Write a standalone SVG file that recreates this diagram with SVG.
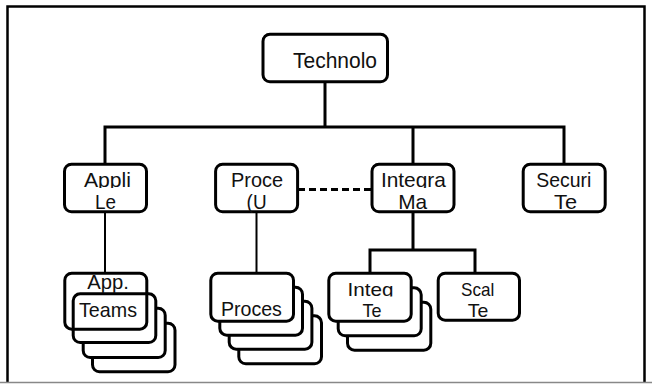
<svg xmlns="http://www.w3.org/2000/svg" width="652" height="384" viewBox="0 0 652 384">
<defs>
<style>
.box{fill:#fff;stroke:#000;stroke-width:3}
.ghost{fill:none;stroke:#000;stroke-width:3}
.ln{stroke:#000;stroke-width:3;fill:none}
.thin{stroke:#000;stroke-width:2;fill:none}
.dash{stroke:#000;stroke-width:3;stroke-dasharray:7 4;fill:none}
text{font-family:"Liberation Sans",Arial,sans-serif;fill:#111}
.t1{font-size:21px;text-anchor:middle}
.t2{font-size:21px;text-anchor:middle}
.t3{font-size:19px;text-anchor:middle}
</style>
<clipPath id="c1"><rect x="0" y="140" width="652" height="48"/></clipPath>
<clipPath id="c2"><rect x="0" y="265" width="652" height="31.5"/></clipPath>
</defs>
<rect width="652" height="384" fill="#fff"/>
<g id="frame">
<path d="M7.5,383 V6.5 H644.5 V382" stroke="#000" stroke-width="2.5" fill="none"/>
<line x1="0" y1="382.5" x2="652" y2="382.5" stroke="#888" stroke-width="1.5"/>
</g>
<g id="connectors">
<path class="ln" d="M105,164 V127 H564 V164 M325,82 V127 M413,127 V164"/>
<path class="ln" d="M413,212 V250 M370,273 V250 H475 V273"/>
<path class="thin" d="M105,212 V273 M256.5,212 V273"/>
<path class="dash" d="M298,189.5 H371"/>
</g>
<g id="technolo">
<rect class="box" x="263" y="34.2" width="124.5" height="47.6" rx="7"/>
<text x="293" y="68" style="font-size:22px" textLength="84" lengthAdjust="spacingAndGlyphs">Technolo</text>
</g>
<g id="appli">
<rect class="box" x="64.5" y="164.2" width="82" height="47.6" rx="7"/>
<text class="t1" x="107.5" y="187" clip-path="url(#c1)" textLength="47" lengthAdjust="spacingAndGlyphs">Appli</text>
<text class="t1" x="105.5" y="209" textLength="21" lengthAdjust="spacingAndGlyphs">Le</text>
</g>
<g id="proce">
<rect class="box" x="215.6" y="164.2" width="82" height="47.6" rx="7"/>
<text class="t1" x="257" y="187" clip-path="url(#c1)" textLength="52" lengthAdjust="spacingAndGlyphs">Proce</text>
<text class="t1" x="256.6" y="209" textLength="20" lengthAdjust="spacingAndGlyphs">(U</text>
</g>
<g id="integra">
<rect class="box" x="372" y="164.2" width="82" height="47.6" rx="7"/>
<text class="t1" x="413.4" y="187" clip-path="url(#c1)" textLength="65" lengthAdjust="spacingAndGlyphs">Integra</text>
<text class="t1" x="412.7" y="209" textLength="29" lengthAdjust="spacingAndGlyphs">Ma</text>
</g>
<g id="securi">
<rect class="box" x="523.2" y="164.2" width="82" height="47.6" rx="7"/>
<text class="t1" x="563.8" y="187" clip-path="url(#c1)" textLength="55" lengthAdjust="spacingAndGlyphs">Securi</text>
<text class="t1" x="565.5" y="209" textLength="23" lengthAdjust="spacingAndGlyphs">Te</text>
</g>
<g id="app-teams">
<rect class="box" x="92.5" y="323.2" width="82.5" height="48.6" rx="7"/>
<rect class="box" x="83.2" y="308.2" width="82" height="49.3" rx="7"/>
<rect class="box" x="73.2" y="293.8" width="82.6" height="48.7" rx="7"/>
<rect class="ghost" x="64.8" y="273.2" width="82" height="56" rx="7"/>
<text class="t2" x="108" y="289" textLength="41.6" lengthAdjust="spacingAndGlyphs">App.</text>
<text class="t2" x="108" y="317" textLength="58" lengthAdjust="spacingAndGlyphs">Teams</text>
</g>
<g id="proces">
<rect class="box" x="238.8" y="315.8" width="82.7" height="48" rx="7"/>
<rect class="box" x="229.2" y="301.2" width="82.7" height="48" rx="7"/>
<rect class="box" x="219.8" y="287.2" width="82.7" height="48" rx="7"/>
<rect class="box" x="210.8" y="273.2" width="82.7" height="48" rx="7"/>
<text class="t2" x="251.4" y="316" textLength="61" lengthAdjust="spacingAndGlyphs">Proces</text>
</g>
<g id="integ">
<rect class="box" x="347.5" y="302.2" width="83.3" height="48" rx="7"/>
<rect class="box" x="338.2" y="287.8" width="83" height="48" rx="7"/>
<rect class="box" x="328.8" y="273.2" width="82.4" height="48" rx="7"/>
<text class="t3" x="370.5" y="295.5" clip-path="url(#c2)" textLength="46" lengthAdjust="spacingAndGlyphs">Integ</text>
<text class="t3" x="372" y="316.5" textLength="19" lengthAdjust="spacingAndGlyphs">Te</text>
</g>
<g id="scal">
<rect class="box" x="438.2" y="273.2" width="81.3" height="47" rx="7"/>
<text class="t3" x="477.7" y="295.5" clip-path="url(#c2)" textLength="33.3" lengthAdjust="spacingAndGlyphs">Scal</text>
<text class="t3" x="478" y="316.5" textLength="20.6" lengthAdjust="spacingAndGlyphs">Te</text>
</g>
</svg>
